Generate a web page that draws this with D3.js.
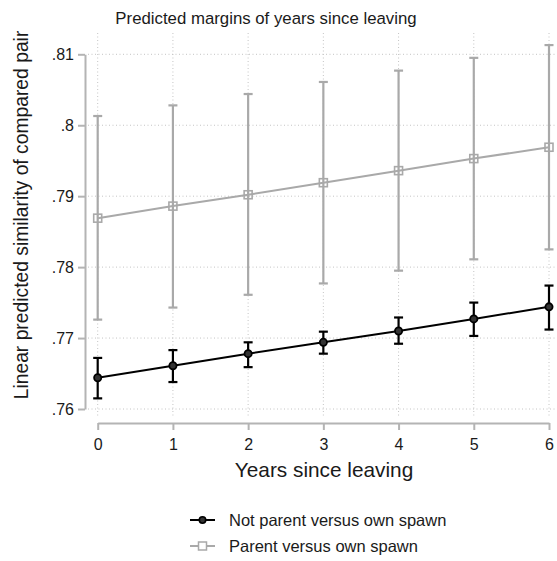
<!DOCTYPE html>
<html><head><meta charset="utf-8">
<script src="https://cdn.jsdelivr.net/npm/d3@7"></script>
<style>
html,body{margin:0;padding:0;background:#fff;}
text{font-family:"Liberation Sans",Arial,sans-serif;}
</style></head>
<body><svg id="c" width="557" height="561"></svg>
<script>
const years = [0,1,2,3,4,5,6];
const yTicks = [0.76,0.77,0.78,0.79,0.80,0.81];
const notParentVal = [0.7644,0.7661,0.7678,0.7694,0.7710,0.7727,0.7744];
const notParentLo  = [0.7615,0.7638,0.7659,0.7678,0.7692,0.7703,0.7712];
const notParentHi  = [0.7672,0.7683,0.7694,0.7709,0.7729,0.7750,0.7774];
const parentVal = [0.7869,0.7886,0.7902,0.7919,0.7936,0.7953,0.7969];
const parentLo  = [0.7726,0.7743,0.7761,0.7777,0.7795,0.7811,0.7825];
const parentHi  = [0.8013,0.8028,0.8044,0.8061,0.8077,0.8095,0.8113];
const seriesNames = ["Not parent versus own spawn","Parent versus own spawn"];

const svg = d3.select("#c");
const x = d3.scaleLinear().domain([0,6]).range([97.7,549]);
const y = d3.scaleLinear().domain([0.76,0.81]).range([409,54.3]);
const axisCol = "#b4b4b4", gridCol = "#c4c4c4", txtCol = "#1a1a1a";
const grayCol = "#a9a9a9", blackCol = "#000";

// gridlines
const g = svg.append("g");
g.selectAll("line.h").data(yTicks).join("line")
  .attr("x1",88).attr("x2",556).attr("y1",d=>y(d)).attr("y2",d=>y(d))
  .attr("stroke",gridCol).attr("stroke-width",1).attr("stroke-dasharray","1,2.5");
g.selectAll("line.v").data(years).join("line")
  .attr("x1",d=>x(d)).attr("x2",d=>x(d)).attr("y1",33).attr("y2",418)
  .attr("stroke",gridCol).attr("stroke-width",1).attr("stroke-dasharray","1,2.5");

// axes
const fmt = d => { let s = d3.format(".2f")(d).replace(/^0/,""); return s.replace(/0$/,""); };
const ya = svg.append("g").attr("transform","translate(85,0)")
  .call(d3.axisLeft(y).tickValues(yTicks).tickFormat(fmt).tickSize(7).tickPadding(4).tickSizeOuter(0));
const xa = svg.append("g").attr("transform","translate(0,423)")
  .call(d3.axisBottom(x).tickValues(years).tickFormat(d3.format("d")).tickSize(7).tickPadding(9).tickSizeOuter(0));
[ya,xa].forEach(a=>{
  a.select(".domain").attr("stroke",axisCol).attr("stroke-width",2);
  a.selectAll(".tick line").attr("stroke",axisCol).attr("stroke-width",2);
  a.selectAll(".tick text").attr("fill",txtCol).style("font-size","16px")
   .style("font-family","'Liberation Sans',Arial,sans-serif");
});

// series
function drawSeries(vals, lo, hi, col, marker){
  const s = svg.append("g");
  s.selectAll("line.eb").data(years).join("line")
    .attr("x1",d=>x(d)).attr("x2",d=>x(d)).attr("y1",(d,i)=>y(lo[i])).attr("y2",(d,i)=>y(hi[i]))
    .attr("stroke",col).attr("stroke-width",2.2);
  [lo,hi].forEach(arr=>{
    s.selectAll(null).data(years).join("line")
      .attr("x1",d=>x(d)-4.5).attr("x2",d=>x(d)+4.5).attr("y1",(d,i)=>y(arr[i])).attr("y2",(d,i)=>y(arr[i]))
      .attr("stroke",col).attr("stroke-width",2.2);
  });
  s.append("path").datum(vals)
    .attr("d", d3.line().x((d,i)=>x(years[i])).y(d=>y(d)))
    .attr("fill","none").attr("stroke",col).attr("stroke-width",2);
  if(marker==="square"){
    s.selectAll("rect").data(vals).join("rect")
      .attr("x",(d,i)=>x(years[i])-4).attr("y",d=>y(d)-4).attr("width",8).attr("height",8)
      .attr("fill","none").attr("stroke",col).attr("stroke-width",1.6);
  } else {
    s.selectAll("circle").data(vals).join("circle")
      .attr("cx",(d,i)=>x(years[i])).attr("cy",d=>y(d)).attr("r",3.6)
      .attr("fill","#333").attr("stroke",col).attr("stroke-width",1.8);
  }
}
drawSeries(parentVal,parentLo,parentHi,grayCol,"square");
drawSeries(notParentVal,notParentLo,notParentHi,blackCol,"circle");

// titles
svg.append("text").attr("x",266).attr("y",24).attr("text-anchor","middle")
  .style("font-size","16.8px").attr("fill",txtCol).text("Predicted margins of years since leaving");
svg.append("text").attr("transform","translate(28,215) rotate(-90)").attr("text-anchor","middle")
  .style("font-size","19.3px").attr("fill",txtCol).text("Linear predicted similarity of compared pair");
svg.append("text").attr("x",324).attr("y",477).attr("text-anchor","middle")
  .style("font-size","20.8px").attr("fill",txtCol).text("Years since leaving");

// legend
const leg = svg.append("g");
const legY = [520,546];
const legCol = [blackCol, grayCol];
legY.forEach((ly,i)=>{
  leg.append("line").attr("x1",190).attr("x2",215).attr("y1",ly).attr("y2",ly)
    .attr("stroke",legCol[i]).attr("stroke-width",2);
  if(i===0){
    leg.append("circle").attr("cx",202.5).attr("cy",ly).attr("r",3.2)
      .attr("fill","#333").attr("stroke",blackCol).attr("stroke-width",1.6);
  } else {
    leg.append("rect").attr("x",198.5).attr("y",ly-4).attr("width",8).attr("height",8)
      .attr("fill","#fff").attr("stroke",grayCol).attr("stroke-width",1.5);
  }
  leg.append("text").attr("x",229).attr("y",ly+6).style("font-size","16.5px").attr("fill",txtCol)
    .text(seriesNames[i]);
});
</script></body></html>
